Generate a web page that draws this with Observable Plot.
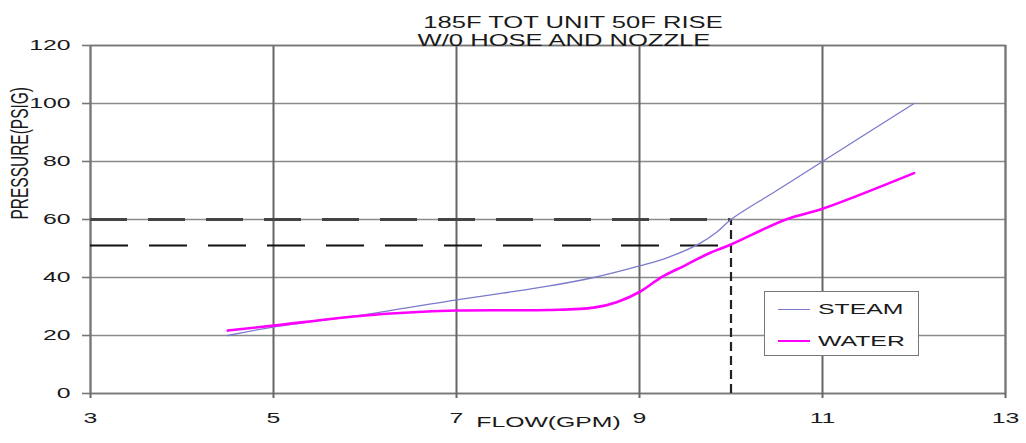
<!DOCTYPE html>
<html><head><meta charset="utf-8">
<script src="https://cdn.jsdelivr.net/npm/d3@7"></script>
<script src="https://cdn.jsdelivr.net/npm/@observablehq/plot@0.6"></script>
<style>
body{margin:0;background:#fff;font-family:"Liberation Sans",Arial,sans-serif;}
#wrap{position:relative;width:1026px;height:443px;}
#legend{position:absolute;left:764px;top:291px;width:155px;height:65px;border:1.5px solid #777;background:#fff;box-sizing:border-box;}
.item{position:absolute;left:13px;height:20px;display:flex;align-items:center;}
.sw{width:32px;margin-right:8px;}
.lab{font-size:15.5px;color:#1a1a1a;transform:scaleX(1.6);transform-origin:left center;white-space:nowrap;}
</style></head>
<body><div id="wrap"></div>
<script>
const titleLines = ["185F TOT UNIT 50F RISE", "W/0 HOSE AND NOZZLE"];
const xLabel = "FLOW(GPM)";
const yLabel = "PRESSURE(PSIG)";
const flowTicks = [3, 5, 7, 9, 11, 13];
const pressureTicks = [0, 20, 40, 60, 80, 100, 120];
const seriesNames = ["STEAM", "WATER"];
const seriesColors = ["#7a7acc", "#ff00ff"];
const steamFlow = [4.5, 5, 6, 7, 7.5, 8, 8.5, 9, 9.3, 9.65, 9.85, 10, 10.5, 11, 12];
const steamPressure = [20, 22.9, 27.2, 32.3, 34.6, 37, 40, 44, 46.8, 51.6, 55.8, 60, 70, 80, 100];
const waterFlow = [4.5, 5, 6, 7, 8, 8.5, 8.75, 9, 9.25, 9.5, 9.75, 10, 10.6, 11, 12];
const waterPressure = [21.7, 23.4, 26.9, 28.6, 28.8, 29.6, 31.5, 35, 40.3, 44.2, 48.2, 51.4, 60, 63.7, 76];
const refFlow = 10;
const refSteam = 60;
const refWater = 51;

const steam = steamFlow.map((x, i) => ({x, y: steamPressure[i]}));
const water = waterFlow.map((x, i) => ({x, y: waterPressure[i]}));

const chart = Plot.plot({
  width: 1026, height: 443,
  marginLeft: 90, marginRight: 21, marginTop: 45, marginBottom: 50,
  style: {fontFamily: '"Liberation Sans", Arial, sans-serif', fontSize: "15.5px", color: "#1a1a1a", background: "#fff"},
  x: {domain: [3, 13]},
  y: {domain: [0, 120]},
  marks: [
    Plot.ruleY(pressureTicks, {stroke: "#8a8a8a", strokeWidth: 1.6}),
    Plot.ruleX(flowTicks, {stroke: "#666", strokeWidth: 2}),
    Plot.frame({stroke: "#777", strokeWidth: 1.6}),
    Plot.axisX({ticks: flowTicks, tickSize: 5, tickPadding: 13, stroke: "#666", strokeWidth: 2, label: null, tickFormat: d => String(d)}),
    Plot.axisY({ticks: pressureTicks, tickSize: 8, tickPadding: 12, stroke: "#777", strokeWidth: 1.6, label: null}),
    Plot.ruleY([refSteam], {x1: 3, x2: refFlow, stroke: "#444", strokeWidth: 3, strokeDasharray: "37,21"}),
    Plot.ruleY([refWater], {x1: 3, x2: refFlow, stroke: "#111", strokeWidth: 2, strokeDasharray: "38,21"}),
    Plot.ruleX([refFlow], {y1: 0, y2: refSteam, stroke: "#222", strokeWidth: 2.2, strokeDasharray: "9,5"}),
    Plot.line(steam, {x: "x", y: "y", stroke: seriesColors[0], strokeWidth: 1.3, curve: "catmull-rom"}),
    Plot.line(water, {x: "x", y: "y", stroke: seriesColors[1], strokeWidth: 2.6, curve: "catmull-rom"}),
    Plot.text([titleLines[0]], {text: d => d, frameAnchor: "top", dy: -29, dx: 25, fontSize: 16, fill: "#1a1a1a"}),
    Plot.text([titleLines[1]], {text: d => d, frameAnchor: "top", dy: -10.5, dx: 16, fontSize: 16, fill: "#1a1a1a"}),
    Plot.text([xLabel], {text: d => d, frameAnchor: "bottom", dy: 33.5, dx: 0.5, fontSize: 15.5, fill: "#1a1a1a"}),
    Plot.text([yLabel], {text: d => d, frameAnchor: "left", dx: -70, rotate: -90, fontSize: 15.5, fill: "#1a1a1a"})
  ]
});

const wrap = document.getElementById("wrap");
wrap.appendChild(chart);

// horizontal stretch of the lettering, scaled about each text's anchor
const factor = 1.6;
chart.querySelectorAll("text").forEach(t => {
  const tr = t.getAttribute("transform") || "";
  if (tr.includes("rotate")) {
    t.setAttribute("transform", tr + " scale(1," + factor + ")");
  } else {
    let x = parseFloat(t.getAttribute("x"));
    if (!isFinite(x)) x = 0;
    t.setAttribute("transform", (tr ? tr + " " : "") + "translate(" + x + ",0) scale(" + factor + ",1) translate(" + (-x) + ",0)");
  }
});

// legend
const legend = document.createElement("div");
legend.id = "legend";
seriesNames.forEach((name, i) => {
  const item = document.createElement("div");
  item.className = "item";
  item.style.top = (i === 0 ? 7 : 39) + "px";
  const sw = document.createElement("div");
  sw.className = "sw";
  sw.style.borderTop = (i === 0 ? 1.3 : 2.6) + "px solid " + seriesColors[i];
  const lab = document.createElement("span");
  lab.className = "lab";
  lab.textContent = name;
  item.appendChild(sw); item.appendChild(lab);
  legend.appendChild(item);
});
wrap.appendChild(legend);
</script>
</body></html>
